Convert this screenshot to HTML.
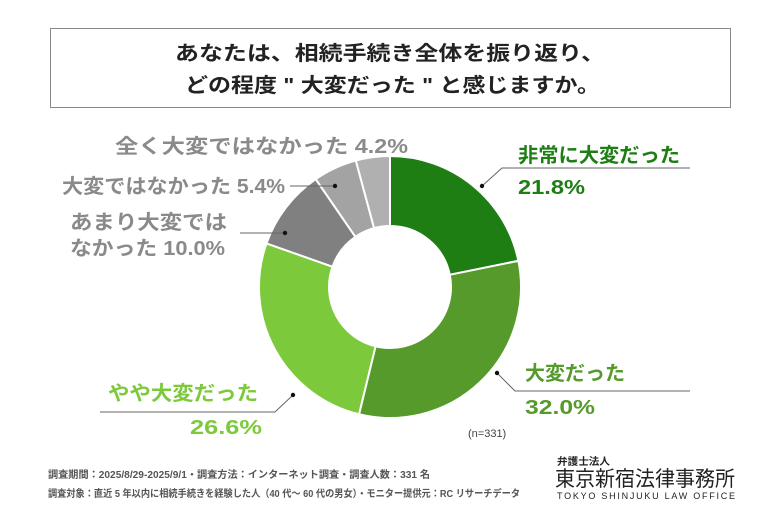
<!DOCTYPE html>
<html><head><meta charset="utf-8"><style>
body{margin:0;background:#fff;width:780px;height:520px;overflow:hidden;font-family:"Liberation Sans","Noto Sans CJK JP",sans-serif}
</style></head><body>
<svg width="780" height="520" xmlns="http://www.w3.org/2000/svg" font-family="Liberation Sans, Noto Sans CJK JP, sans-serif">
<rect x="50.5" y="28.5" width="680" height="79" fill="#fff" stroke="#888" stroke-width="1"/>
<text x="175" y="60" font-size="20" font-weight="bold" fill="#222" textLength="430" lengthAdjust="spacingAndGlyphs">あなたは、相続手続き全体を振り返り、</text>
<text x="185" y="92" font-size="20" font-weight="bold" fill="#222" textLength="415" lengthAdjust="spacingAndGlyphs">どの程度 " 大変だった " と感じますか。</text>
<g id="pie" stroke="#fff" stroke-width="2"></g>
<g stroke="#666" stroke-width="1" fill="none">
<polyline points="482,186 502,168 690,168"/>
<polyline points="497,373 515,391 690,391"/>
<polyline points="293,395 275,412 100,412"/>
<polyline points="285,233 240,233"/>
<polyline points="335,186 290,186"/>
</g>
<g fill="#111"><circle cx="482" cy="186" r="2.2"/><circle cx="497" cy="373" r="2.2"/><circle cx="293" cy="395" r="2.2"/><circle cx="285" cy="233" r="2.2"/><circle cx="335" cy="186" r="2.2"/></g>
<g font-weight="bold" font-size="20">
<text x="518" y="162" fill="#1e7e14" textLength="162" lengthAdjust="spacingAndGlyphs">非常に大変だった</text>
<text x="518" y="194" fill="#1e7e14" textLength="67" lengthAdjust="spacingAndGlyphs">21.8%</text>
<text x="525" y="380" fill="#559a2a" textLength="100" lengthAdjust="spacingAndGlyphs">大変だった</text>
<text x="525" y="414" fill="#559a2a" textLength="70" lengthAdjust="spacingAndGlyphs">32.0%</text>
<text x="108" y="400" fill="#7dc93c" textLength="150" lengthAdjust="spacingAndGlyphs">やや大変だった</text>
<text x="190" y="434" fill="#7dc93c" textLength="72" lengthAdjust="spacingAndGlyphs">26.6%</text>
<text x="70" y="229" fill="#8a8a8a" textLength="157" lengthAdjust="spacingAndGlyphs">あまり大変では</text>
<text x="70" y="255" fill="#8a8a8a" textLength="155" lengthAdjust="spacingAndGlyphs">なかった 10.0%</text>
<text x="62" y="193" fill="#8a8a8a" textLength="223" lengthAdjust="spacingAndGlyphs">大変ではなかった 5.4%</text>
<text x="115" y="153" fill="#8a8a8a" textLength="293" lengthAdjust="spacingAndGlyphs">全く大変ではなかった 4.2%</text>
</g>
<text x="468" y="437" font-size="11" fill="#444">(n=331)</text>
<text x="48" y="478" font-size="10" font-weight="bold" fill="#555" textLength="382" lengthAdjust="spacingAndGlyphs">調査期間：2025/8/29-2025/9/1・調査方法：インターネット調査・調査人数：331 名</text>
<text x="48" y="497" font-size="10" font-weight="bold" fill="#555" textLength="472" lengthAdjust="spacingAndGlyphs">調査対象：直近 5 年以内に相続手続きを経験した人（40 代～ 60 代の男女）・モニター提供元：RC リサーチデータ</text>
<text x="557" y="465" font-size="10" font-weight="bold" fill="#222" textLength="53" lengthAdjust="spacingAndGlyphs">弁護士法人</text>
<text x="555" y="486" font-size="21" fill="#222" textLength="180" lengthAdjust="spacingAndGlyphs">東京新宿法律事務所</text>
<text x="557" y="499" font-size="9" fill="#222" textLength="178" lengthAdjust="spacing">TOKYO SHINJUKU LAW OFFICE</text>
</svg>
<script>
var d=[[21.8,"#1e7e14"],[32.0,"#559a2a"],[26.6,"#7dc93c"],[10.0,"#808080"],[5.4,"#a3a3a3"],[4.2,"#b0b0b0"]];
var cx=390,cy=287,R=131,r=61,a=0,s="",tot=100;
function p(rad,ang){return [cx+rad*Math.sin(ang),cy-rad*Math.cos(ang)];}
d.forEach(function(e){var a0=a/tot*2*Math.PI;a+=e[0];var a1=a/tot*2*Math.PI;var L=(a1-a0)>Math.PI?1:0;
var p1=p(R,a0),p2=p(R,a1),p3=p(r,a1),p4=p(r,a0);
s+='<path fill="'+e[1]+'" d="M'+p1+'A'+R+','+R+' 0 '+L+' 1 '+p2+'L'+p3+'A'+r+','+r+' 0 '+L+' 0 '+p4+'Z"/>';});
document.getElementById("pie").innerHTML=s;
</script>
</body></html>
